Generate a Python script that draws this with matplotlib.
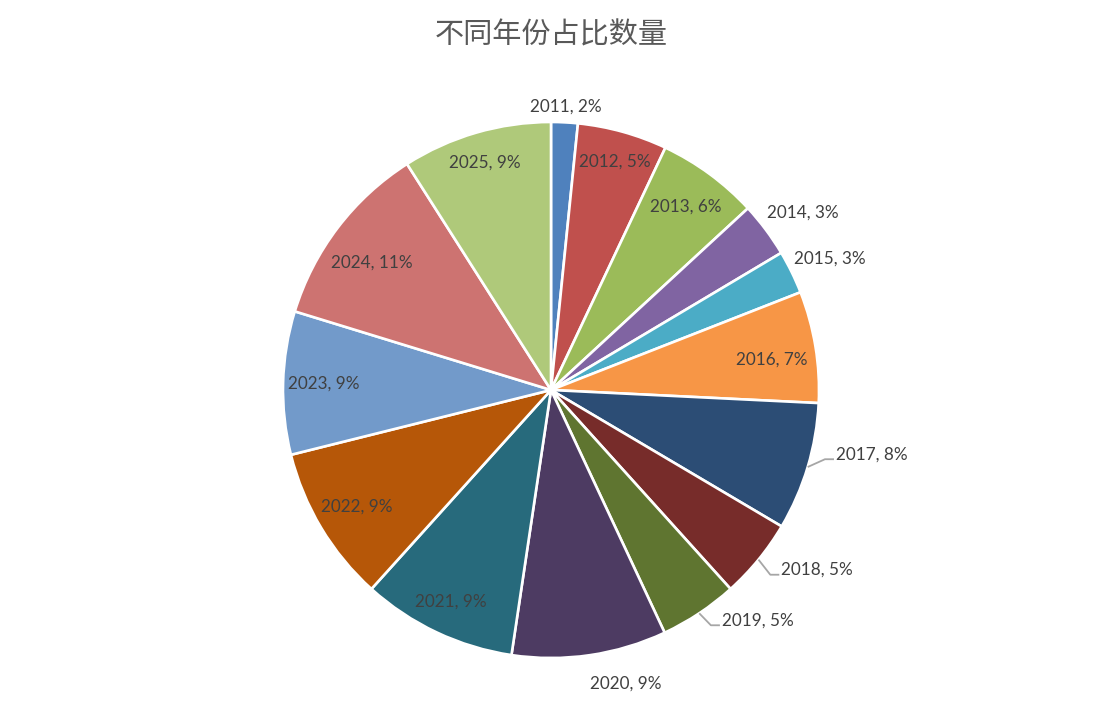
import numpy as np
import matplotlib
matplotlib.use("Agg")
import matplotlib.pyplot as plt

years = ["2011", "2012", "2013", "2014", "2015", "2016", "2017", "2018",
         "2019", "2020", "2021", "2022", "2023", "2024", "2025"]
values = [1.6, 5.4, 6.1, 3.3, 2.6, 6.7, 7.7, 4.8, 4.7, 9.3, 9.3, 9.4, 8.6, 11.2, 9.0]
colors = ["#4F81BD", "#C0504D", "#9BBB59", "#8064A2", "#4BACC6", "#F79646",
          "#2C4D75", "#772C2A", "#5F7530", "#4D3B62", "#276A7C", "#B65708",
          "#729ACA", "#CD7371", "#AFC97A"]
title = "不同年份占比数量"

# label layout: (mode, radius factor, angle offset in degrees clockwise)
layout = [("out", 1.06, 0), ("in", 0.885, 0), ("in", 0.85, 0), ("out", 1.15, 1.5),
          ("out", 1.15, 0.8), ("in", 0.83, 1.5), ("lead", 1.09, -4), ("lead", 1.09, -1.3),
          ("lead", 1.07, -3), ("out", 1.13, -6), ("in", 0.875, 0), ("in", 0.845, 0),
          ("in", 0.85, 0), ("in", 0.82, -2), ("in", 0.885, 0)]

W, H = 1102, 724
fig = plt.figure(figsize=(W / 100, H / 100), dpi=100)
ax = fig.add_axes([0, 0, 1, 1])

cx, cy, R = 551, 334, 268
wedges, _ = ax.pie(values, colors=colors, startangle=90, counterclock=False,
                   center=(cx, cy), radius=R, frame=True,
                   wedgeprops=dict(edgecolor="white", linewidth=1.9))
ax.set_xlim(0, W)
ax.set_ylim(0, H)
ax.set_aspect("equal")
ax.axis("off")

total = sum(values)
fp = dict(family=["Lato", "DejaVu Sans"], fontsize=12.3, color="#404040")
for w, yr, v, (mode, rf, dang) in zip(wedges, years, values, layout):
    mid = (w.theta1 + w.theta2) / 2.0
    lab = f"{yr}, {int(round(v / total * 100))}%"
    a = np.deg2rad(mid - dang)
    tx, ty = cx + rf * R * np.cos(a), cy + rf * R * np.sin(a)
    if mode in ("in", "out"):
        ax.text(tx, ty, lab, ha="center", va="center", **fp)
    else:
        m = np.deg2rad(mid)
        ex, ey = cx + R * np.cos(m), cy + R * np.sin(m)
        ly = ty - 5
        ax.plot([ex, tx - 11, tx - 2], [ey, ly, ly], color="#A6A6A6", lw=1.3,
                solid_capstyle="butt")
        ax.text(tx, ty, lab, ha="left", va="center", **fp)

ax.text(W / 2, H - 35, title, ha="center", va="center", fontsize=21,
        color="#595959", fontweight="light",
        family=["Noto Sans CJK SC", "DejaVu Sans"])

fig.savefig("out.png", dpi=100)
